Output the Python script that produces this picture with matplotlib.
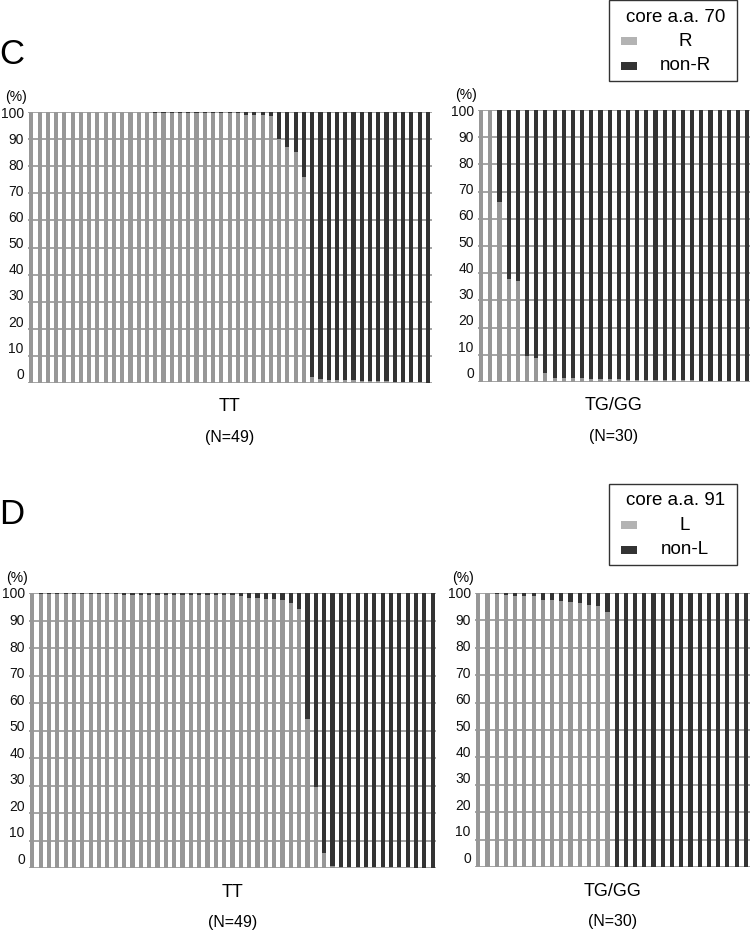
import matplotlib
matplotlib.use("Agg")
import matplotlib.pyplot as plt
from matplotlib.patches import Rectangle
from matplotlib.transforms import ScaledTranslation

# ---------------- data (percent of clones with the wild-type residue) ----------------
# Panel C: core a.a. 70, share of "R" per patient (remainder = non-R)
c_tt_R = [100, 100, 100, 100, 100, 100, 100, 100, 100, 100,
          100, 100, 100, 100, 100, 99.7, 99.7, 99.7, 99.7, 99.7,
          99.5, 99.5, 99.5, 99.5, 99.5, 99.5, 99.0, 98.8, 98.8, 98.6,
          90.2, 87.2, 85.3, 76.1, 2.3, 1.4, 1.2, 1.1, 1.0, 1.0,
          0.9, 0.8, 0.7, 0.6, 0.5, 0.4, 0.3, 0.2, 0.1]
c_gg_R = [100, 100, 66.2, 37.7, 37.0, 9.5, 8.8, 3.3, 1.6, 1.5,
          1.4, 1.3, 1.2, 1.1, 1.0, 1.0, 0.9, 0.9, 0.8, 0.8,
          0.7, 0.7, 0.6, 0.6, 0.5, 0.5, 0.4, 0.4, 0.3, 0.2]
# Panel D: core a.a. 91, share of "L" per patient (remainder = non-L)
d_tt_L = [100, 99.6, 99.6, 99.6, 99.6, 99.6, 99.6, 99.6, 99.6, 99.6,
          99.6, 99.4, 99.4, 99.4, 99.4, 99.4, 99.4, 99.4, 99.4, 99.4,
          99.4, 99.2, 99.2, 99.2, 99.2, 99.0, 98.2, 98.2, 97.9, 97.9,
          97.3, 96.4, 94.2, 54.3, 29.5, 5.5, 0.6, 0.5, 0.4, 0.4,
          0.3, 0.3, 0.3, 0.2, 0.2, 0.2, 0.1, 0.1, 0.0]
d_gg_L = [100, 100, 99.8, 99.2, 98.8, 98.8, 98.8, 97.3, 97.3, 97.0,
          96.7, 96.4, 95.5, 95.3, 93.0, 0, 0, 0, 0, 0,
          0, 0, 0, 0, 0, 0, 0, 0, 0, 0]

group_labels = ["TT", "TG/GG"]
group_n = ["(N=49)", "(N=30)"]
panel_letters = ["C", "D"]
legend_titles = ["core a.a. 70", "core a.a. 91"]
legend_labels = [["R", "non-R"], ["L", "non-L"]]
yticks = list(range(0, 101, 10))

GREY = "#979797"
DARK = "#333333"
GRID = "#8c8c8c"
LEG_GREY = "#b3b3b3"

FAM = ["Liberation Sans", "DejaVu Sans"]
plt.rcParams["font.family"] = FAM

W, H = 750, 933
fig = plt.figure(figsize=(W / 100, H / 100), dpi=100)


def fx(px):
    return px / W


def fy(py):
    return 1 - py / H


def draw_panel(rect_px, values, xlim, barw):
    x0, y0, x1, y1 = rect_px
    ax = fig.add_axes([fx(x0), fy(y1), fx(x1) - fx(x0), fy(y0) - fy(y1)])
    idx = list(range(len(values)))
    rest = [100 - v for v in values]
    ax.bar(idx, values, width=barw, color=GREY, linewidth=0, zorder=2)
    ax.bar(idx, rest, bottom=values, width=barw, color=DARK, linewidth=0, zorder=2)
    ax.set_xlim(*xlim)
    ax.set_ylim(0, 100)
    ax.set_yticks(yticks)
    ax.set_xticks([])
    ax.yaxis.grid(True, color=GRID, linewidth=1.1)
    ax.set_axisbelow(True)
    for s in ax.spines.values():
        s.set_visible(False)
    ax.tick_params(axis="y", length=0, pad=3, labelsize=10, labelcolor="#111111")
    # Excel-style label placement: labels slightly compressed toward the top
    for v, lab in zip(yticks, ax.get_yticklabels()):
        dy = (1 - v / 100) * 7.0 / 72
        lab.set_transform(lab.get_transform() + ScaledTranslation(0, dy, fig.dpi_scale_trans))
    ax.text(-0.003, 1.055, "(%)", transform=ax.transAxes, ha="right", va="center",
            fontsize=10)
    return ax


def group_text(ax, label, n):
    ax.text(0.5, -0.088, label, transform=ax.transAxes, ha="center", va="center",
            fontsize=13)
    ax.text(0.5, -0.2, n, transform=ax.transAxes, ha="center", va="center",
            fontsize=11.5)


def legend_box(top_px, title, labels):
    x0, x1 = 609, 737
    y0, y1 = top_px, top_px + 81
    fig.patches.append(Rectangle((fx(x0), fy(y1)), fx(x1) - fx(x0), fy(y0) - fy(y1),
                                 transform=fig.transFigure, facecolor="white",
                                 edgecolor="#333333", linewidth=1.0))
    fig.text(fx(676), fy(y0 + 17), title, ha="center", va="center", fontsize=13.5)
    for k, (lab, col) in enumerate(zip(labels, [LEG_GREY, DARK])):
        yc = y0 + 41 + 25 * k
        fig.patches.append(Rectangle((fx(621), fy(yc + 4)), fx(16), 8 / H,
                                     transform=fig.transFigure, facecolor=col,
                                     edgecolor="none"))
        fig.text(fx(685), fy(yc), lab, ha="center", va="center", fontsize=13.5)


# Panel C
ax = draw_panel((28, 112, 432, 383), c_tt_R, (-0.4, 48.5), 0.5)
group_text(ax, group_labels[0], group_n[0])
ax = draw_panel((478, 110, 750, 382), c_gg_R, (-0.35, 29.3), 0.45)
group_text(ax, group_labels[1], group_n[1])

# Panel D
ax = draw_panel((29, 593, 436, 868), d_tt_L, (-0.4, 48.4), 0.5)
group_text(ax, group_labels[0], group_n[0])
ax = draw_panel((475, 593, 750, 867), d_gg_L, (-0.35, 29.45), 0.45)
group_text(ax, group_labels[1], group_n[1])

fig.text(fx(-1), fy(54), panel_letters[0], ha="left", va="center", fontsize=25)
fig.text(fx(-1), fy(514), panel_letters[1], ha="left", va="center", fontsize=25)

legend_box(0, legend_titles[0], legend_labels[0])
legend_box(484, legend_titles[1], legend_labels[1])

fig.savefig("out.png", dpi=100)
